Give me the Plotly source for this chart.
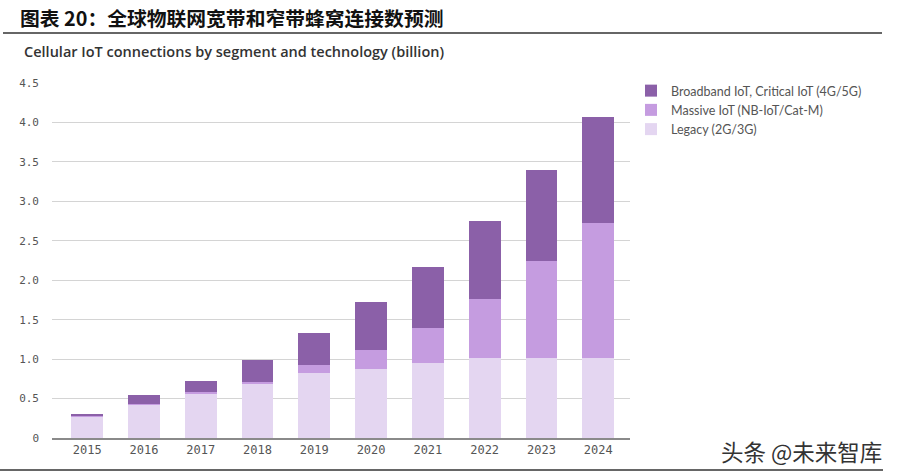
import plotly.graph_objects as go

years = ["2015", "2016", "2017", "2018", "2019", "2020", "2021", "2022", "2023", "2024"]
legacy = [0.27, 0.43, 0.57, 0.68, 0.82, 0.88, 0.95, 1.02, 1.01, 1.01]
massive = [0.005, 0.005, 0.01, 0.03, 0.10, 0.23, 0.44, 0.74, 1.23, 1.71]
broadband = [0.035, 0.11, 0.14, 0.28, 0.41, 0.62, 0.78, 0.99, 1.16, 1.35]

series_names = ["Legacy (2G/3G)", "Massive IoT (NB-IoT/Cat-M)", "Broadband IoT, Critical IoT (4G/5G)"]
colors = ["#e4d6f1", "#c59ce0", "#8b60a8"]

W, H = 899, 475
L, R, T, B = 52, 269, 83, 37
PW, PH = W - L - R, H - T - B

def px(x):
    return (x - L) / PW

def py(y):
    return (H - B - y) / PH

fig = go.Figure()
for name, vals, c in zip(series_names, [legacy, massive, broadband], colors):
    fig.add_trace(go.Bar(x=years, y=vals, name=name, marker=dict(color=c, line=dict(width=0)),
                         width=0.56))

fig.update_layout(
    barmode="stack",
    width=W, height=H, autosize=False,
    margin=dict(l=L, r=R, t=T, b=B),
    paper_bgcolor="white", plot_bgcolor="white",
    showlegend=True,
    legend=dict(x=px(631), y=py(76), xanchor="left", yanchor="top", traceorder="reversed",
                font=dict(family="Lato, Open Sans, sans-serif", size=12.5, color="#555555"),
                bgcolor="rgba(0,0,0,0)"),
    xaxis=dict(type="category", range=[-0.62, 9.56], showgrid=False, showline=True,
               linecolor="#8a8a8a", linewidth=1.5, ticks="",
               tickfont=dict(family="DejaVu Sans Mono", size=12, color="#555555")),
    yaxis=dict(range=[0, 4.5], tickvals=[0, 0.5, 1, 1.5, 2, 2.5, 3, 3.5, 4, 4.5],
               ticktext=["0", "0.5", "1.0", "1.5", "2.0", "2.5", "3.0", "3.5", "4.0", "4.5"],
               showgrid=True, gridcolor="#d4d4d4", gridwidth=1, zeroline=False, showline=False,
               ticklabelstandoff=12,
               tickfont=dict(family="DejaVu Sans Mono", size=11, color="#555555")),
    font=dict(family="Lato, sans-serif"),
)

fig.add_annotation(text="<b>图表 20：全球物联网宽带和窄带蜂窝连接数预测</b>", xref="paper", yref="paper",
                   x=px(18), y=py(17), xanchor="left", yanchor="middle", showarrow=False,
                   font=dict(family="Noto Sans CJK SC", size=19.8, color="#111111"))
fig.add_annotation(text="Cellular IoT connections by segment and technology (billion)", xref="paper", yref="paper",
                   x=px(22), y=py(52), xanchor="left", yanchor="middle", showarrow=False,
                   font=dict(family="Open Sans", size=14.5, color="#333333", weight=600))
fig.add_annotation(text="头条 @未来智库", xref="paper", yref="paper",
                   x=px(719), y=py(451), xanchor="left", yanchor="middle", showarrow=False,
                   font=dict(family="Noto Sans CJK SC", size=22.5, color="#333333"))

fig.add_shape(type="line", xref="paper", yref="paper", x0=px(3), x1=px(882), y0=py(33), y1=py(33),
              line=dict(color="#333333", width=1.5))
fig.add_shape(type="line", xref="paper", yref="paper", x0=px(0), x1=px(883), y0=py(470), y1=py(470),
              line=dict(color="#333333", width=1.5))

fig.write_html("out.html")
